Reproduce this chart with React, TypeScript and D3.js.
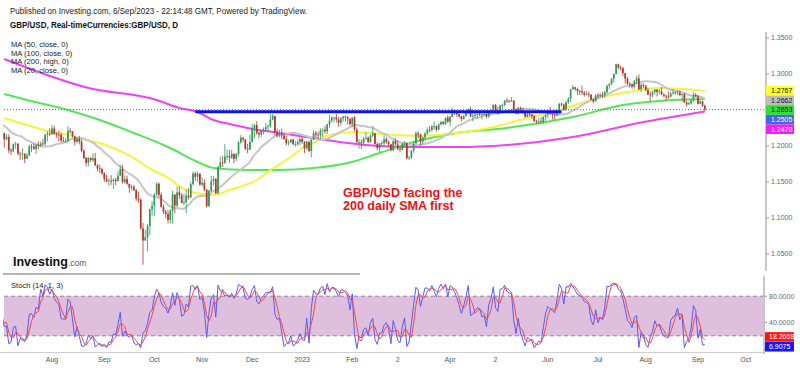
import { useEffect, useRef } from 'react';
import * as d3 from 'd3';

// daily GBP/USD bars (weekdays), first bar 3 Jun 2022, last bar 6 Sep 2023
const firstDay = '2022-06-03';

const closes = [
  1.2488, 1.2531, 1.2594, 1.2531, 1.2490, 1.2310, 1.2160, 1.1997, 1.2175, 1.2352, 1.2225, 1.2265, 1.2277, 1.2264, 1.2266, 1.2267, 1.2267, 1.2188, 1.2124, 1.2178,
  1.2094, 1.2125, 1.1940, 1.1925, 1.2026, 1.2034, 1.1892, 1.1890, 1.1894, 1.1823, 1.1867, 1.1993, 1.1992, 1.1961, 1.2017, 1.2003, 1.2035, 1.2032, 1.2159, 1.2175, 1.2162,
  1.2244, 1.2166, 1.2158, 1.2154, 1.2076, 1.2072, 1.2072, 1.2212, 1.2206, 1.2135, 1.2058, 1.2101, 1.2061, 1.1931, 1.1835, 1.1766, 1.1834, 1.1803, 1.1831, 1.1733, 1.1688, 1.1680, 1.1621,
  1.1541, 1.1509, 1.1518, 1.1512, 1.1532, 1.1512, 1.1590, 1.1680, 1.1500, 1.1540, 1.1475, 1.1420, 1.1435, 1.1385, 1.1268, 1.1254, 1.0856, 1.0688, 1.0733, 1.0888, 1.1122, 1.1169,
  1.1326, 1.1476, 1.1322, 1.1155, 1.1087, 1.1056, 1.0973, 1.1100, 1.1327, 1.1172, 1.1357, 1.1315, 1.1207, 1.1220, 1.1312, 1.1287, 1.1471, 1.1617, 1.1572, 1.1617, 1.1465,
  1.1489, 1.1392, 1.1162, 1.1377, 1.1512, 1.1542, 1.1343, 1.1707, 1.1772, 1.1767, 1.1855, 1.1862, 1.1838, 1.1892, 1.1822, 1.1887, 1.2049, 1.2115, 1.2093, 1.1961, 1.1950, 1.2055,
  1.2250, 1.2290, 1.2180, 1.2160, 1.2210, 1.2232, 1.2265, 1.2276, 1.2368, 1.2415, 1.2187, 1.2145, 1.2179, 1.2147, 1.2099, 1.2039, 1.2048, 1.2091, 1.2024, 1.2025, 1.2056, 1.2097,
  1.2058, 1.1968, 1.2060, 1.1930, 1.2087, 1.2177, 1.2155, 1.2152, 1.2215, 1.2227, 1.2203, 1.2301, 1.2353, 1.2393, 1.2395, 1.2368, 1.2322, 1.2384, 1.2409, 1.2397, 1.2376, 1.2303,
  1.2395, 1.2230, 1.2052, 1.2055, 1.2045, 1.2105, 1.2117, 1.2054, 1.2145, 1.2175, 1.2026, 1.1972, 1.2036, 1.2040, 1.2095, 1.2057, 1.2023, 1.1943, 1.2068, 1.2022,
  1.1960, 1.1948, 1.2035, 1.2040, 1.1830, 1.1840, 1.1937, 1.2035, 1.2177, 1.2160, 1.2062, 1.2120, 1.2175, 1.2225, 1.2222, 1.2272, 1.2277, 1.2229, 1.2300, 1.2335, 1.2307, 1.2393, 1.2337,
  1.2406, 1.2494, 1.2463, 1.2442, 1.2411, 1.2375, 1.2413, 1.2458, 1.2513, 1.2412, 1.2418, 1.2433, 1.2444, 1.2440, 1.2443, 1.2445, 1.2412, 1.2479, 1.2498, 1.2570,
  1.2494, 1.2481, 1.2562, 1.2567, 1.2632, 1.2629, 1.2622, 1.2630, 1.2510, 1.2450, 1.2525, 1.2495, 1.2470, 1.2405, 1.2442, 1.2437, 1.2415, 1.2344, 1.2336, 1.2343, 1.2336, 1.2407, 1.2433,
  1.2458, 1.2449, 1.2441, 1.2433, 1.2481, 1.2587, 1.2575, 1.2503, 1.2609, 1.2656, 1.2788, 1.2817, 1.2793, 1.2763, 1.2759, 1.2742, 1.2713, 1.2719, 1.2713, 1.2643, 1.2619, 1.2702,
  1.2689, 1.2712, 1.2707, 1.2748, 1.2837, 1.2859, 1.2936, 1.3003, 1.3134, 1.3089, 1.3080, 1.3012, 1.2936, 1.2867, 1.2857, 1.2824, 1.2899, 1.2939, 1.2787, 1.2850, 1.2835,
  1.2776, 1.2715, 1.2712, 1.2748, 1.2784, 1.2751, 1.2758, 1.2717, 1.2697, 1.2687, 1.2685, 1.2729, 1.2742, 1.2736, 1.2743, 1.2708, 1.2720, 1.2605, 1.2578, 1.2594, 1.2634, 1.2706, 1.2688,
  1.2587, 1.2620, 1.2560, 1.2505,
];

const highs = [
  1.2599, 1.2590, 1.2600, 1.2600, 1.2597, 1.2518, 1.2330, 1.2160, 1.2207, 1.2406, 1.2353, 1.2293, 1.2324, 1.2315, 1.2325, 1.2323, 1.2333, 1.2292, 1.2202, 1.2194,
  1.2185, 1.2165, 1.2164, 1.1970, 1.2036, 1.2060, 1.1995, 1.1919, 1.1970, 1.1898, 1.1902, 1.2019, 1.2030, 1.2034, 1.2027, 1.2064, 1.2064, 1.2098, 1.2170, 1.2204, 1.2245,
  1.2293, 1.2280, 1.2191, 1.2213, 1.2186, 1.2129, 1.2109, 1.2276, 1.2249, 1.2209, 1.2147, 1.2120, 1.2142, 1.2093, 1.1957, 1.1848, 1.1845, 1.1844, 1.1900, 1.1900, 1.1748, 1.1741, 1.1701,
  1.1637, 1.1600, 1.1550, 1.1595, 1.1550, 1.1560, 1.1648, 1.1738, 1.1738, 1.1588, 1.1590, 1.1475, 1.1463, 1.1458, 1.1403, 1.1370, 1.1273, 1.0931, 1.0840, 1.0916, 1.1129, 1.1235,
  1.1345, 1.1495, 1.1493, 1.1356, 1.1187, 1.1112, 1.1112, 1.1124, 1.1380, 1.1330, 1.1441, 1.1438, 1.1346, 1.1337, 1.1395, 1.1414, 1.1499, 1.1646, 1.1644, 1.1645, 1.1614,
  1.1563, 1.1537, 1.1406, 1.1390, 1.1586, 1.1581, 1.1554, 1.1725, 1.1855, 1.1862, 1.2029, 1.1955, 1.1946, 1.1947, 1.1883, 1.1907, 1.2070, 1.2153, 1.2128, 1.2090, 1.2030, 1.2155,
  1.2310, 1.2311, 1.2345, 1.2198, 1.2225, 1.2259, 1.2321, 1.2299, 1.2443, 1.2446, 1.2426, 1.2241, 1.2224, 1.2243, 1.2181, 1.2145, 1.2083, 1.2098, 1.2096, 1.2073, 1.2090, 1.2122,
  1.2123, 1.2071, 1.2072, 1.2066, 1.2100, 1.2218, 1.2209, 1.2197, 1.2246, 1.2247, 1.2280, 1.2306, 1.2434, 1.2417, 1.2408, 1.2448, 1.2405, 1.2403, 1.2418, 1.2420, 1.2419, 1.2386,
  1.2400, 1.2418, 1.2260, 1.2097, 1.2090, 1.2126, 1.2194, 1.2130, 1.2160, 1.2270, 1.2180, 1.2054, 1.2043, 1.2069, 1.2149, 1.2124, 1.2075, 1.2030, 1.2079, 1.2105,
  1.2080, 1.2000, 1.2040, 1.2068, 1.2045, 1.1860, 1.1942, 1.2067, 1.2203, 1.2205, 1.2171, 1.2130, 1.2190, 1.2260, 1.2280, 1.2290, 1.2343, 1.2285, 1.2312, 1.2344, 1.2345, 1.2399, 1.2424,
  1.2416, 1.2525, 1.2500, 1.2484, 1.2450, 1.2420, 1.2436, 1.2485, 1.2525, 1.2546, 1.2463, 1.2475, 1.2474, 1.2475, 1.2454, 1.2474, 1.2474, 1.2490, 1.2514, 1.2584,
  1.2585, 1.2546, 1.2575, 1.2587, 1.2641, 1.2668, 1.2640, 1.2680, 1.2638, 1.2505, 1.2546, 1.2547, 1.2530, 1.2482, 1.2470, 1.2462, 1.2447, 1.2431, 1.2365, 1.2390, 1.2397, 1.2410, 1.2446,
  1.2478, 1.2544, 1.2450, 1.2461, 1.2493, 1.2593, 1.2599, 1.2591, 1.2627, 1.2680, 1.2790, 1.2848, 1.2820, 1.2811, 1.2780, 1.2842, 1.2763, 1.2764, 1.2755, 1.2718, 1.2667, 1.2720,
  1.2738, 1.2734, 1.2755, 1.2761, 1.2849, 1.2875, 1.2942, 1.3005, 1.3144, 1.3142, 1.3114, 1.3098, 1.3003, 1.2958, 1.2885, 1.2866, 1.2916, 1.2976, 1.2995, 1.2874, 1.2870,
  1.2848, 1.2810, 1.2760, 1.2773, 1.2792, 1.2788, 1.2794, 1.2818, 1.2730, 1.2712, 1.2759, 1.2756, 1.2788, 1.2762, 1.2777, 1.2771, 1.2724, 1.2740, 1.2630, 1.2610, 1.2645, 1.2746, 1.2737,
  1.2712, 1.2635, 1.2628, 1.2573,
];

const lows = [
  1.2468, 1.2480, 1.2430, 1.2508, 1.2475, 1.2306, 1.2119, 1.1934, 1.1991, 1.2041, 1.2200, 1.2209, 1.2239, 1.2160, 1.2206, 1.2239, 1.2253, 1.2169, 1.2106, 1.2085,
  1.1976, 1.2077, 1.1900, 1.1876, 1.1913, 1.1965, 1.1870, 1.1807, 1.1806, 1.1760, 1.1820, 1.1864, 1.1920, 1.1945, 1.1890, 1.1962, 1.1985, 1.2007, 1.2005, 1.2063, 1.2137,
  1.2159, 1.2156, 1.2114, 1.2062, 1.2046, 1.2056, 1.2043, 1.2065, 1.2171, 1.2118, 1.2006, 1.2035, 1.2021, 1.1914, 1.1817, 1.1717, 1.1717, 1.1780, 1.1780, 1.1724, 1.1648, 1.1625, 1.1600,
  1.1501, 1.1495, 1.1444, 1.1459, 1.1405, 1.1458, 1.1543, 1.1583, 1.1480, 1.1478, 1.1460, 1.1350, 1.1380, 1.1375, 1.1236, 1.1211, 1.0838, 1.0350, 1.0680, 1.0540, 1.0763, 1.1025,
  1.1025, 1.1307, 1.1285, 1.1145, 1.1055, 1.0999, 1.0924, 1.0923, 1.0924, 1.1060, 1.1148, 1.1266, 1.1205, 1.1178, 1.1059, 1.1255, 1.1274, 1.1452, 1.1516, 1.1500, 1.1445,
  1.1436, 1.1376, 1.1146, 1.1158, 1.1360, 1.1450, 1.1331, 1.1335, 1.1687, 1.1710, 1.1750, 1.1804, 1.1766, 1.1820, 1.1763, 1.1792, 1.1856, 1.2030, 1.2055, 1.1943, 1.1899, 1.1945,
  1.2050, 1.2107, 1.2156, 1.2107, 1.2126, 1.2162, 1.2215, 1.2203, 1.2255, 1.2355, 1.2143, 1.2120, 1.2120, 1.2091, 1.2085, 1.2004, 1.2003, 1.2056, 1.2011, 1.1992, 1.2000, 1.2012,
  1.2030, 1.1900, 1.1946, 1.1918, 1.1841, 1.2081, 1.2122, 1.2103, 1.2091, 1.2125, 1.2169, 1.2168, 1.2254, 1.2323, 1.2331, 1.2327, 1.2265, 1.2283, 1.2339, 1.2342, 1.2302, 1.2283,
  1.2264, 1.2205, 1.2050, 1.1962, 1.1961, 1.2015, 1.2083, 1.2049, 1.2044, 1.2125, 1.2024, 1.1939, 1.1915, 1.2012, 1.2010, 1.2030, 1.1993, 1.1923, 1.1924, 1.2010,
  1.1940, 1.1920, 1.1940, 1.1985, 1.1817, 1.1803, 1.1817, 1.1905, 1.2040, 1.2107, 1.2010, 1.2025, 1.2082, 1.2155, 1.2190, 1.2200, 1.2227, 1.2200, 1.2215, 1.2283, 1.2290, 1.2290, 1.2321,
  1.2274, 1.2400, 1.2429, 1.2400, 1.2394, 1.2344, 1.2365, 1.2411, 1.2440, 1.2402, 1.2344, 1.2389, 1.2386, 1.2416, 1.2367, 1.2424, 1.2380, 1.2390, 1.2440, 1.2488,
  1.2482, 1.2436, 1.2462, 1.2510, 1.2551, 1.2599, 1.2597, 1.2610, 1.2483, 1.2443, 1.2437, 1.2465, 1.2446, 1.2392, 1.2400, 1.2406, 1.2380, 1.2338, 1.2308, 1.2297, 1.2335, 1.2307, 1.2344,
  1.2386, 1.2436, 1.2368, 1.2366, 1.2409, 1.2437, 1.2550, 1.2488, 1.2489, 1.2584, 1.2611, 1.2778, 1.2767, 1.2709, 1.2709, 1.2710, 1.2685, 1.2702, 1.2680, 1.2638, 1.2591, 1.2620,
  1.2659, 1.2680, 1.2670, 1.2678, 1.2727, 1.2790, 1.2846, 1.2879, 1.2992, 1.3067, 1.3044, 1.2969, 1.2867, 1.2850, 1.2810, 1.2799, 1.2797, 1.2860, 1.2779, 1.2750, 1.2803,
  1.2760, 1.2705, 1.2620, 1.2680, 1.2718, 1.2687, 1.2719, 1.2707, 1.2672, 1.2624, 1.2654, 1.2675, 1.2712, 1.2713, 1.2709, 1.2690, 1.2615, 1.2600, 1.2548, 1.2572, 1.2574, 1.2613, 1.2675,
  1.2576, 1.2588, 1.2545, 1.2486,
];

// long moving averages
const ma50: [string, number][] = [
  ['2022-07-01', 1.2389], ['2022-07-20', 1.2264], ['2022-08-01', 1.2194], ['2022-08-10', 1.2153],
  ['2022-08-22', 1.2083], ['2022-08-30', 1.2042], ['2022-09-09', 1.1944], ['2022-09-20', 1.1833],
  ['2022-09-28', 1.1708], ['2022-10-11', 1.1556], ['2022-10-21', 1.1389], ['2022-11-03', 1.1325],
  ['2022-11-08', 1.1319], ['2022-11-17', 1.1389], ['2022-12-05', 1.1528], ['2022-12-13', 1.1665],
  ['2022-12-26', 1.1847], ['2023-01-02', 1.1972], ['2023-01-09', 1.2042], ['2023-01-18', 1.2153],
  ['2023-02-01', 1.2194], ['2023-03-01', 1.2153], ['2023-03-15', 1.2139], ['2023-04-06', 1.2181],
  ['2023-04-28', 1.2264], ['2023-05-19', 1.2389], ['2023-06-08', 1.2500], ['2023-06-28', 1.2639],
  ['2023-07-20', 1.2750], ['2023-08-09', 1.2806], ['2023-09-06', 1.2767],
];

const ma100: [string, number][] = [
  ['2022-07-01', 1.2722], ['2022-07-15', 1.2639], ['2022-08-10', 1.2500], ['2022-08-30', 1.2361],
  ['2022-09-20', 1.2181], ['2022-10-11', 1.1986], ['2022-10-31', 1.1764], ['2022-11-08', 1.1694],
  ['2022-11-29', 1.1667], ['2022-12-19', 1.1667], ['2023-01-09', 1.1694], ['2023-01-30', 1.1764],
  ['2023-02-17', 1.1903], ['2023-03-10', 1.2056], ['2023-04-06', 1.2181], ['2023-05-08', 1.2250],
  ['2023-06-16', 1.2403], ['2023-07-18', 1.2569], ['2023-08-17', 1.2639], ['2023-09-06', 1.2653],
];

const ma200High: [string, number][] = [
  ['2022-07-01', 1.3208], ['2022-08-23', 1.2806], ['2022-10-04', 1.2639], ['2022-10-18', 1.2528],
  ['2022-10-28', 1.2472], ['2022-11-08', 1.2361], ['2022-11-17', 1.2306], ['2022-11-29', 1.2250],
  ['2022-12-19', 1.2181], ['2023-01-09', 1.2111], ['2023-01-30', 1.2042], ['2023-02-17', 1.2000],
  ['2023-03-10', 1.1986], ['2023-04-06', 1.1986], ['2023-05-08', 1.2014], ['2023-06-16', 1.2125],
  ['2023-07-27', 1.2319], ['2023-09-06', 1.2478],
];

const resistanceLine: [string, number][] = [['2022-10-27', 1.2476], ['2023-06-09', 1.2476]];

const priceTicks = [1.05, 1.1, 1.15, 1.2, 1.25, 1.3, 1.35];
const stochTicks = [0, 40, 80];
const stochBand = [20, 80];
const stochLast = { d: 18.2668, k: 6.9075 };

const monthTicks: [string, string][] = [
  ['2022-08-01', 'Aug'], ['2022-09-01', 'Sep'], ['2022-10-03', 'Oct'], ['2022-11-01', 'Nov'],
  ['2022-12-01', 'Dec'], ['2023-01-02', '2023'], ['2023-02-01', 'Feb'], ['2023-03-01', '2'],
  ['2023-04-03', 'Apr'], ['2023-05-01', '2'], ['2023-06-01', 'Jun'], ['2023-07-03', 'Jul'],
  ['2023-08-01', 'Aug'], ['2023-09-01', 'Sep'], ['2023-10-02', 'Oct'],
];

const legendLines = ['MA (50, close, 0)', 'MA (100, close, 0)', 'MA (200, high, 0)', 'MA (20, close, 0)'];

const FONT = 'Arial, "Liberation Sans", sans-serif';

const App = () => {
  const svgRef = useRef<SVGSVGElement>(null);

  useEffect(() => {
    if (!svgRef.current) return;
    const svg = d3.select(svgRef.current);
    svg.selectAll('*').remove();

    const parse = d3.timeParse('%Y-%m-%d');
    const start = parse(firstDay)!;
    // bar index = weekdays since the first bar
    const dayIndex = (s: string) =>
      d3.timeDays(start, parse(s)!).filter(t => t.getDay() % 6 !== 0).length;

    const x = d3.scaleLinear()
      .domain([dayIndex('2022-08-01'), dayIndex('2023-09-01')])
      .range([52, 698]);
    const y = d3.scaleLinear().domain([1.05, 1.35]).range([254, 38]);
    const ys = d3.scaleLinear().domain([0, 100]).range([349, 283]);

    const defs = svg.append('defs');
    defs.append('clipPath').attr('id', 'mainClip')
      .append('rect').attr('x', 3).attr('y', 30).attr('width', 762).attr('height', 240);
    defs.append('clipPath').attr('id', 'stochClip')
      .append('rect').attr('x', 3).attr('y', 277).attr('width', 760).attr('height', 75);

    // header
    svg.append('text').attr('x', 10).attr('y', 14)
      .attr('font-family', FONT).attr('font-size', 8.5).attr('fill', '#222')
      .attr('textLength', 297).attr('lengthAdjust', 'spacingAndGlyphs')
      .text('Published on Investing.com, 6/Sep/2023 - 22:14:48 GMT, Powered by TradingView.');
    svg.append('text').attr('x', 10).attr('y', 28)
      .attr('font-family', FONT).attr('font-size', 8.5).attr('font-weight', 'bold').attr('fill', '#111')
      .attr('textLength', 168).attr('lengthAdjust', 'spacingAndGlyphs')
      .text('GBP/USD, Real-timeCurrencies:GBP/USD, D');

    const main = svg.append('g').attr('clip-path', 'url(#mainClip)');

    // moving averages
    const sampleLine = d3.line<[string, number]>()
      .x(d => x(dayIndex(d[0])))
      .y(d => y(d[1]))
      .curve(d3.curveMonotoneX);

    const sma20: [number, number][] = [];
    closes.forEach((_, i) => {
      if (i < 19) return;
      sma20.push([i, d3.mean(closes.slice(i - 19, i + 1))!]);
    });

    main.append('path').attr('d', sampleLine(ma200High)).attr('fill', 'none')
      .attr('stroke', '#ee44ee').attr('stroke-width', 2);
    main.append('path').attr('d', sampleLine(ma100)).attr('fill', 'none')
      .attr('stroke', '#55e655').attr('stroke-width', 2);
    main.append('path').attr('d', sampleLine(ma50)).attr('fill', 'none')
      .attr('stroke', '#f4f43c').attr('stroke-width', 2);
    main.append('path')
      .attr('d', d3.line<[number, number]>().x(d => x(d[0])).y(d => y(d[1]))(sma20))
      .attr('fill', 'none').attr('stroke', '#c6c6c6').attr('stroke-width', 2);

    // last price dotted line
    const lastClose = closes[closes.length - 1];
    svg.append('line').attr('x1', 4).attr('x2', 766)
      .attr('y1', y(lastClose)).attr('y2', y(lastClose))
      .attr('stroke', '#4a6cf0').attr('stroke-width', 1).attr('stroke-dasharray', '1,2');

    // candles
    const bars = closes.map((c, i) => ({
      i, c, o: i > 0 ? closes[i - 1] : c, h: highs[i], l: lows[i],
    }));
    const upCol = '#2f9a5a';
    const downCol = '#b0362c';
    const g = main.append('g');
    g.selectAll('line.wick').data(bars).enter().append('line')
      .attr('x1', d => x(d.i)).attr('x2', d => x(d.i))
      .attr('y1', d => y(Math.max(d.h, d.o, d.c)))
      .attr('y2', d => y(Math.min(d.l, d.o, d.c)))
      .attr('stroke', d => (d.c >= d.o ? upCol : downCol)).attr('stroke-width', 0.8);
    g.selectAll('rect.body').data(bars).enter().append('rect')
      .attr('x', d => x(d.i) - 0.85).attr('width', 1.7)
      .attr('y', d => y(Math.max(d.o, d.c)))
      .attr('height', d => Math.max(0.8, Math.abs(y(d.o) - y(d.c))))
      .attr('fill', d => (d.c >= d.o ? upCol : downCol));

    // drawn horizontal level
    main.append('path')
      .attr('d', d3.line<[string, number]>().x(d => x(dayIndex(d[0]))).y(d => y(d[1]))(resistanceLine))
      .attr('stroke', '#0a12ee').attr('stroke-width', 3).attr('fill', 'none');

    // legend
    legendLines.forEach((t, i) => {
      svg.append('text').attr('x', 11).attr('y', 47 + i * 8.7)
        .attr('font-family', FONT).attr('font-size', 7.6).attr('fill', '#222').text(t);
    });

    // annotation
    const note = svg.append('text').attr('font-family', FONT).attr('font-size', 12.5)
      .attr('font-weight', 'bold').attr('fill', '#ee1111');
    note.append('tspan').attr('x', 343).attr('y', 197).text('GBP/USD facing the');
    note.append('tspan').attr('x', 343).attr('y', 210).text('200 daily SMA first');

    // logo
    const logo = svg.append('text').attr('x', 13).attr('y', 266).attr('font-family', FONT);
    logo.append('tspan').attr('font-size', 12.5).attr('font-weight', 'bold').attr('fill', '#111').text('Investing');
    logo.append('tspan').attr('font-size', 8.5).attr('fill', '#555').text('.com');

    // price axis
    svg.append('line').attr('x1', 766).attr('x2', 766).attr('y1', 32).attr('y2', 271)
      .attr('stroke', '#b4b4b4').attr('stroke-width', 1.5);
    const pAxis = svg.append('g');
    priceTicks.forEach(v => {
      pAxis.append('line').attr('x1', 766).attr('x2', 769).attr('y1', y(v)).attr('y2', y(v))
        .attr('stroke', '#999');
      pAxis.append('text').attr('x', 771).attr('y', y(v)).attr('dy', '0.35em')
        .attr('font-family', FONT).attr('font-size', 7).attr('fill', '#666')
        .text(d3.format('.4f')(v));
    });

    // last value tags, stacked so they do not overlap
    const tags = [
      { v: ma50[ma50.length - 1][1], bg: '#ffff33', fg: '#111' },
      { v: sma20[sma20.length - 1][1], bg: '#bdbdbd', fg: '#111' },
      { v: ma100[ma100.length - 1][1], bg: '#2ee02e', fg: '#111' },
      { v: lastClose, bg: '#4169e1', fg: '#fff' },
      { v: ma200High[ma200High.length - 1][1], bg: '#f020f0', fg: '#fff' },
    ].map(t => ({ ...t, y: y(t.v) })).sort((a, b) => a.y - b.y);
    tags.forEach((t, i) => {
      if (i > 0) t.y = Math.max(t.y, tags[i - 1].y + 9.6);
    });
    tags.forEach(t => {
      svg.append('rect').attr('x', 766).attr('y', t.y - 4.8).attr('width', 28).attr('height', 9.6)
        .attr('fill', t.bg);
      svg.append('text').attr('x', 771).attr('y', t.y).attr('dy', '0.35em')
        .attr('font-family', FONT).attr('font-size', 7).attr('fill', t.fg)
        .text(d3.format('.4f')(t.v));
    });

    // stochastic (14, 1, 3)
    svg.append('line').attr('x1', 3).attr('x2', 360).attr('y1', 274).attr('y2', 274)
      .attr('stroke', '#b4b4b4').attr('stroke-width', 2);
    svg.append('text').attr('x', 11).attr('y', 288)
      .attr('font-family', FONT).attr('font-size', 7.6).attr('fill', '#222').text('Stoch (14, 1, 3)');

    const k: [number, number][] = [];
    closes.forEach((c, i) => {
      if (i < 13) return;
      const hh = d3.max(highs.slice(i - 13, i + 1))!;
      const ll = d3.min(lows.slice(i - 13, i + 1))!;
      k.push([i, hh === ll ? 50 : ((c - ll) / (hh - ll)) * 100]);
    });
    const dLine: [number, number][] = [];
    k.forEach((p, j) => {
      if (j < 2) return;
      dLine.push([p[0], (k[j][1] + k[j - 1][1] + k[j - 2][1]) / 3]);
    });

    const stoch = svg.append('g').attr('clip-path', 'url(#stochClip)');
    stoch.append('rect').attr('x', 4).attr('width', 759)
      .attr('y', ys(stochBand[1])).attr('height', ys(stochBand[0]) - ys(stochBand[1]))
      .attr('fill', '#dec0de');
    stochBand.forEach(v => {
      stoch.append('line').attr('x1', 4).attr('x2', 763).attr('y1', ys(v)).attr('y2', ys(v))
        .attr('stroke', '#9a7e9a').attr('stroke-width', 1).attr('stroke-dasharray', '4,3');
    });
    const sl = d3.line<[number, number]>().x(d => x(d[0])).y(d => ys(d[1]));
    stoch.append('path').attr('d', sl(k)).attr('fill', 'none')
      .attr('stroke', '#5a5af5').attr('stroke-width', 1);
    stoch.append('path').attr('d', sl(dLine)).attr('fill', 'none')
      .attr('stroke', '#f24a4a').attr('stroke-width', 1);

    svg.append('line').attr('x1', 0).attr('x2', 764).attr('y1', 352.5).attr('y2', 352.5)
      .attr('stroke', '#d0d0d0').attr('stroke-width', 1);
    svg.append('line').attr('x1', 764).attr('x2', 764).attr('y1', 276).attr('y2', 354)
      .attr('stroke', '#b4b4b4').attr('stroke-width', 1.5);
    stochTicks.forEach(v => {
      svg.append('line').attr('x1', 764).attr('x2', 767).attr('y1', ys(v)).attr('y2', ys(v))
        .attr('stroke', '#999');
      svg.append('text').attr('x', 769).attr('y', ys(v)).attr('dy', '0.35em')
        .attr('font-family', FONT).attr('font-size', 7).attr('fill', '#666')
        .text(d3.format('.4f')(v));
    });
    [
      { v: stochLast.d, bg: '#ff1414', y: ys(stochLast.d) },
      { v: stochLast.k, bg: '#1414ff', y: ys(stochLast.d) + 9.8 },
    ].forEach(t => {
      svg.append('rect').attr('x', 765).attr('y', t.y - 4.8).attr('width', 29).attr('height', 9.6)
        .attr('fill', t.bg);
      svg.append('text').attr('x', 769).attr('y', t.y).attr('dy', '0.35em')
        .attr('font-family', FONT).attr('font-size', 7).attr('fill', '#fff')
        .text(d3.format('.4f')(t.v));
    });

    // time axis
    monthTicks.forEach(([d, label]) => {
      svg.append('text').attr('x', x(dayIndex(d))).attr('y', 362)
        .attr('text-anchor', 'middle').attr('font-family', FONT).attr('font-size', 7)
        .attr('fill', '#555').text(label);
    });
  }, []);

  return (
    <div style={{ position: 'absolute', left: 0, top: 0 }}>
      <svg ref={svgRef} width={800} height={368} style={{ display: 'block', background: '#fff' }} />
    </div>
  );
};

export default App;
